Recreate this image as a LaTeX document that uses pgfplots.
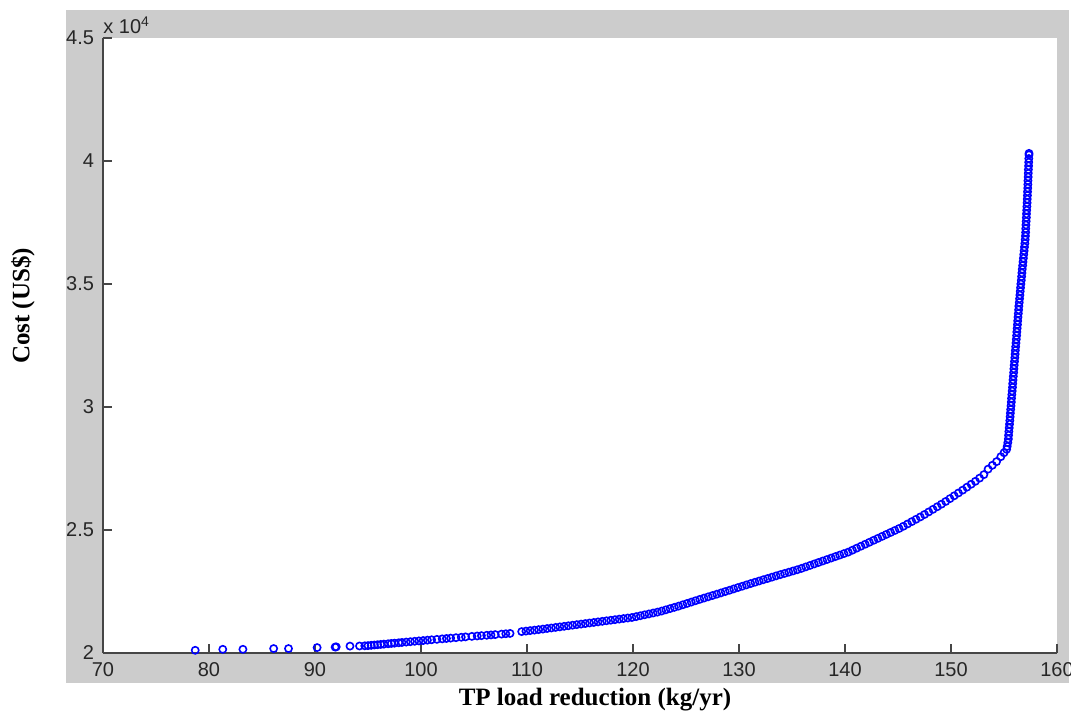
\documentclass[border=0pt]{standalone}
\usepackage{fontspec}
\setmainfont{Liberation Serif}
\newfontfamily\arial{Liberation Sans}
\usepackage{pgfplots}
\usepackage{pgfplotstable}
\pgfplotsset{compat=1.18}
\definecolor{mgray}{RGB}{204,204,204}
\definecolor{axgray}{RGB}{70,70,70}
\pgfplotstableread{
x y
78.7 20110
81.3 20150
83.2 20150
86.1 20180
87.5 20180
90.2 20220
91.9 20240
92.0 20250
93.3 20280
94.2 20285
94.7 20292
95.0 20300
95.3 20312
95.6 20324
95.9 20336
96.2 20348
96.5 20360
96.9 20376
97.2 20388
97.5 20400
97.9 20416
98.2 20428
98.6 20444
99.0 20460
99.4 20476
99.8 20492
100.2 20506
100.6 20522
101.0 20538
101.5 20555
102.0 20575
102.4 20590
102.8 20605
103.3 20622
103.8 20640
104.2 20655
104.8 20675
105.3 20692
105.7 20705
106.2 20720
106.6 20734
107.0 20748
107.6 20768
108.0 20782
108.4 20796
109.5 20870
109.9 20890
110.3 20910
110.7 20930
111.1 20950
111.5 20972
111.9 20995
112.3 21017
112.7 21040
113.1 21062
113.5 21085
113.9 21107
114.3 21130
114.7 21152
115.1 21175
115.5 21197
115.9 21220
116.3 21242
116.7 21265
117.1 21287
117.5 21310
117.9 21332
118.3 21355
118.7 21377
119.1 21400
119.5 21422
119.9 21444
120.3 21478
120.7 21515
121.1 21552
121.5 21588
121.9 21625
122.3 21662
122.7 21705
123.1 21755
123.5 21805
123.9 21855
124.3 21905
124.7 21960
125.1 22015
125.5 22070
125.9 22125
126.3 22180
126.7 22233
127.1 22285
127.5 22337
127.9 22390
128.3 22443
128.7 22497
129.1 22550
129.5 22605
129.9 22660
130.3 22714
130.7 22768
131.1 22822
131.5 22875
131.9 22927
132.3 22980
132.7 23030
133.1 23082
133.5 23135
133.9 23185
134.3 23235
134.7 23285
135.1 23335
135.5 23385
135.9 23440
136.3 23500
136.7 23560
137.1 23620
137.5 23680
137.9 23740
138.3 23800
138.7 23860
139.1 23920
139.5 23980
139.9 24040
140.3 24100
140.7 24180
141.1 24260
141.5 24340
141.9 24420
142.3 24500
142.7 24580
143.1 24660
143.5 24740
143.9 24820
144.3 24900
144.7 24980
145.1 25060
145.5 25150
145.9 25245
146.3 25340
146.7 25435
147.1 25530
147.5 25630
147.9 25735
148.3 25840
148.7 25945
149.1 26050
149.5 26160
149.9 26275
150.3 26390
150.7 26505
151.1 26620
151.5 26740
151.9 26860
152.3 26980
152.7 27110
153.1 27250
153.5 27475
153.9 27630
154.3 27780
154.7 27980
155.0 28140
155.25 28280
155.30 28400
155.36 28550
155.41 28700
155.43 28850
155.46 29000
155.49 29150
155.52 29300
155.55 29450
155.58 29600
155.60 29750
155.63 29900
155.66 30050
155.69 30200
155.71 30350
155.74 30500
155.77 30650
155.80 30800
155.82 30950
155.85 31100
155.88 31250
155.91 31400
155.93 31550
155.96 31700
155.99 31850
156.02 32000
156.05 32150
156.07 32300
156.10 32450
156.13 32600
156.16 32750
156.19 32900
156.21 33050
156.24 33200
156.27 33350
156.29 33500
156.32 33650
156.35 33800
156.38 33950
156.40 34100
156.44 34250
156.47 34400
156.50 34550
156.53 34700
156.56 34850
156.59 35000
156.63 35150
156.66 35300
156.69 35450
156.72 35600
156.76 35750
156.79 35900
156.83 36050
156.86 36200
156.90 36350
156.93 36500
156.97 36650
157.00 36800
157.02 36950
157.04 37100
157.05 37250
157.07 37400
157.09 37550
157.11 37700
157.12 37850
157.14 38000
157.16 38150
157.18 38300
157.19 38450
157.21 38600
157.22 38750
157.24 38900
157.25 39050
157.26 39200
157.28 39350
157.29 39500
157.30 39650
157.32 39800
157.33 39950
157.34 40100
157.36 40250
157.36 40310
}\datatable
\begin{document}
\begin{tikzpicture}
\fill[white] (-51.5pt,-32pt) rectangle (484pt,326.5pt);
\fill[mgray] (-18.5pt,-15pt) rectangle (483pt,321.5pt);
\begin{axis}[
  at={(0pt,0pt)}, anchor=south west,
  scale only axis, width=477pt, height=307.5pt,
  xmin=70, xmax=160, ymin=20000, ymax=45000,
  axis x line*=bottom, axis y line*=left,
  axis line style={axgray, line width=0.6pt, -},
  axis background/.style={fill=white},
  xtick={70,80,...,160},
  ytick={20000,25000,...,45000},
  scaled x ticks=false,
  scaled y ticks=base 10:-4,
  ytick scale label code/.code={},
  tick align=inside,
  major tick length=4.5pt,
  every tick/.style={axgray, line width=0.6pt},
  tick label style={font=\arial\fontsize{10}{12}\selectfont, text=black!85},
  /pgf/number format/assume math mode=true,
  yticklabel style={/pgf/number format/fixed, xshift=-1pt},
  xticklabel style={yshift=-1pt},
  clip=false,
]
\addplot[only marks, mark=o, color=blue, mark size=1.8pt, line width=0.8pt] table[x=x,y=y] {\datatable};
\end{axis}
\node[anchor=south west, inner sep=0pt, font=\arial\fontsize{10}{12}\selectfont, text=black!85] at (0pt,309.5pt) {x 10\textsuperscript{4}};
\node[font=\bfseries\fontsize{12.5}{15}\selectfont] at (246pt,-23.5pt) {TP load reduction (kg/yr)};
\node[rotate=90, font=\bfseries\fontsize{12.5}{15}\selectfont] at (-40pt,173.5pt) {Cost (US\$)};
\pgfresetboundingbox
\path[use as bounding box] (-51.5pt,-32pt) rectangle (484pt,326.5pt);
\end{tikzpicture}
\end{document}
